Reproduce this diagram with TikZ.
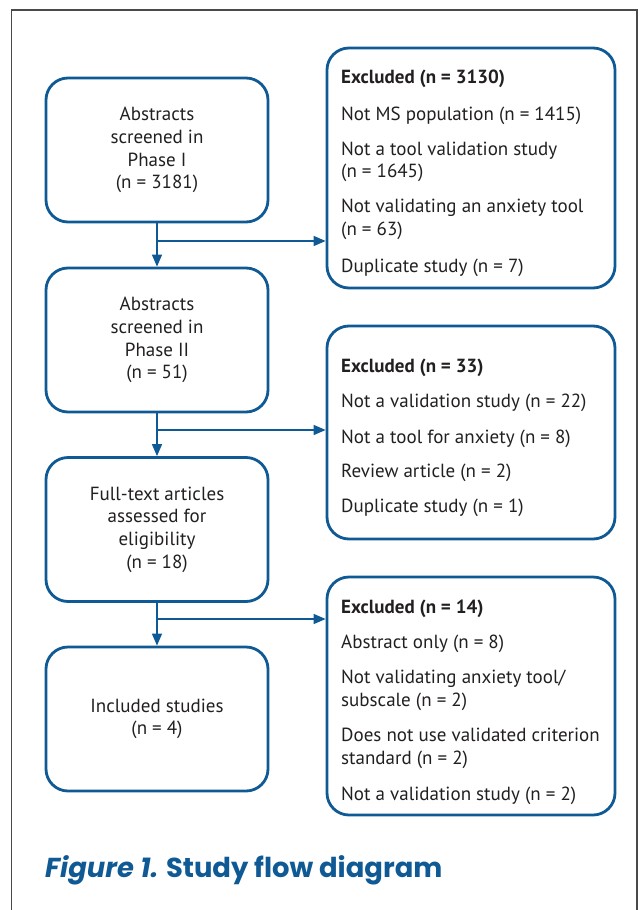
\documentclass[tikz,border=0pt]{standalone}
\usepackage{fontspec}
\setmainfont{PT Sans}
\newfontfamily\capfont{Poppins}
\usetikzlibrary{arrows.meta}
\definecolor{fblue}{HTML}{0F5A94}
\definecolor{ftext}{HTML}{231F20}
\definecolor{fframe}{HTML}{4A4A4A}
\begin{document}
\begin{tikzpicture}[x=1pt,y=-1pt,
  lbox/.style={draw=fblue, line width=2.8pt, rounded corners=22pt, minimum width=222pt, minimum height=144pt, align=center, text=ftext, font=\fontsize{19}{22.7}\selectfont, inner sep=0pt},
  rbox/.style={draw=fblue, line width=2.8pt, rounded corners=22pt, minimum width=288pt, inner sep=0pt},
  item/.style={anchor=base west, text=ftext, font=\fontsize{19}{22.7}\selectfont, inner sep=0pt},
  conn/.style={draw=fblue, line width=1.5pt, -{Triangle[length=12pt,width=10pt]}},
]
\useasboundingbox (0,0) rectangle (642,910);
\draw[fframe, line width=1.2pt] (11.5,910) -- (11.5,10) -- (637,10) -- (637,910);

% left boxes
\node[lbox] (b1) at (157,150) {Abstracts\\screened in\\Phase I\\(n = 3181)};
\node[lbox] (b2) at (157,340) {Abstracts\\screened in\\Phase II\\(n = 51)};
\node[lbox] (b3) at (157,529.5) {Full-text articles\\assessed for\\eligibility\\(n = 18)};
\node[lbox] (b4) at (157,719) {Included studies\\(n = 4)};

% right boxes
\node[rbox, minimum height=240pt] (r1) at (471,168) {};
\node[rbox, minimum height=213pt] (r2) at (471,432.5) {};
\node[rbox, minimum height=238pt] (r3) at (471,696) {};

% right box 1 text
\node[item, font=\fontsize{19}{22.7}\selectfont\bfseries] (r1a) at (341,83) {Excluded (n = 3130)};
\node[item] (r1b) at (341,120) {Not MS population (n = 1415)};
\node[item] (r1c) at (341,155) {Not a tool validation study};
\node[item] (r1d) at (341,177.5) {(n = 1645)};
\node[item] (r1e) at (341,212.5) {Not validating an anxiety tool};
\node[item] (r1f) at (341,235) {(n = 63)};
\node[item] (r1g) at (341,272) {Duplicate study (n = 7)};

% right box 2 text
\node[item, font=\fontsize{19}{22.7}\selectfont\bfseries] (r2a) at (341,372) {Excluded (n = 33)};
\node[item] (r2b) at (341,407) {Not a validation study (n = 22)};
\node[item] (r2c) at (341,443) {Not a tool for anxiety (n = 8)};
\node[item] (r2d) at (341,477) {Review article (n = 2)};
\node[item] (r2e) at (341,512) {Duplicate study (n = 1)};

% right box 3 text
\node[item, font=\fontsize{19}{22.7}\selectfont\bfseries] (r3a) at (341,613) {Excluded (n = 14)};
\node[item] (r3b) at (341,648) {Abstract only (n = 8)};
\node[item] (r3c) at (341,683) {Not validating anxiety tool/};
\node[item] (r3d) at (341,706) {subscale (n = 2)};
\node[item] (r3e) at (341,741.5) {Does not use validated criterion};
\node[item] (r3f) at (341,764.5) {standard (n = 2)};
\node[item] (r3g) at (341,800) {Not a validation study (n = 2)};

% connectors
\coordinate (j1) at (157,241);
\coordinate (j2) at (157,430);
\coordinate (j3) at (157,619);
\draw[conn] (b1) -- (b2);
\draw[conn] (b2) -- (b3);
\draw[conn] (b3) -- (b4);
\draw[conn] (j1) -- (j1 -| r1.west);
\draw[conn] (j2) -- (j2 -| r2.west);
\draw[conn] (j3) -- (j3 -| r3.west);

% caption
\node[anchor=base west, text=fblue, inner sep=0pt, font=\capfont\bfseries\fontsize{27.4}{31}\selectfont] (cap) at (45,877) {\itshape Figure 1.\upshape{} Study flow diagram};
\end{tikzpicture}
\end{document}
